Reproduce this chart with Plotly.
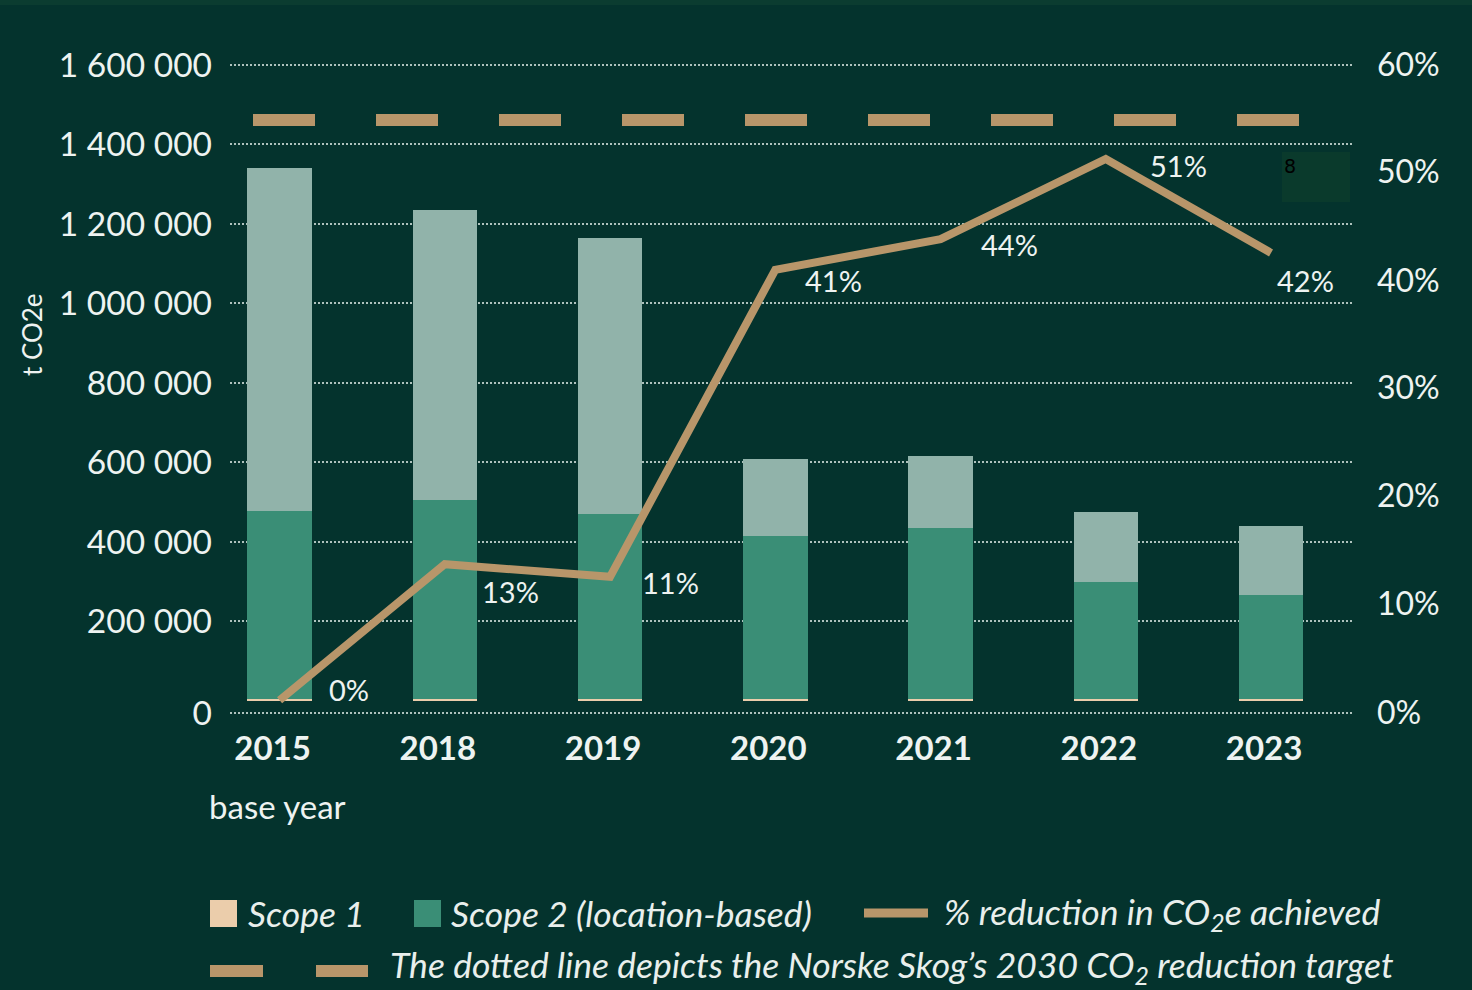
import plotly.graph_objects as go

# data (tonnes CO2e and % reduction)
years = ['2015', '2018', '2019', '2020', '2021', '2022', '2023']
scope1 = [6000, 6000, 6000, 6000, 6000, 6000, 6000]
scope2 = [472000, 500000, 464000, 409000, 429000, 294000, 261000]
other = [863000, 729500, 694400, 193700, 181100, 176100, 173500]
reduction = [0, 12.9, 11.7, 40.8, 43.7, 51.3, 42.4]
reduction_labels = ['0%', '13%', '11%', '41%', '44%', '51%', '42%']
target_2030 = 55

left_ticks = ['0', '200 000', '400 000', '600 000', '800 000',
              '1 000 000', '1 200 000', '1 400 000', '1 600 000']
right_ticks = ['0%', '10%', '20%', '30%', '40%', '50%', '60%']

BG = '#04332d'
PEACH = '#ebcdab'
GREEN = '#3a8e76'
LIGHT = '#91b3aa'
TAN = '#b8966a'
TXT = '#eef3f1'
FONT = 'Lato'

W, H = 1472, 990
L, R, T, B = 230, 120, 63, 276
PW, PH = W - L - R, H - T - B


def px(x):
    return (x - L) / PW


def py(y):
    return (H - B - y) / PH


fig = go.Figure()

fig.add_trace(go.Bar(x=years, y=scope1, name='Scope 1', marker_color=PEACH,
                     marker_line_width=0, width=0.39))
fig.add_trace(go.Bar(x=years, y=scope2, name='Scope 2 (location-based)',
                     marker_color=GREEN, marker_line_width=0, width=0.39))
fig.add_trace(go.Bar(x=years, y=other, name='Other', marker_color=LIGHT,
                     marker_line_width=0, width=0.39))

fig.add_trace(go.Scatter(x=years, y=reduction, yaxis='y2', mode='lines',
                         name='% reduction in CO2e achieved',
                         line=dict(color=TAN, width=8)))

# label offsets next to the line points, in pixels
label_shift = [(69, 11), (66, -27), (60, -6), (58, -11), (69, -5), (73, -6), (34, -28)]
for i, (v, lab) in enumerate(zip(reduction, reduction_labels)):
    # category index, since '2015' would be read as a position
    fig.add_annotation(x=i, y=v, xref='x', yref='y2', text=lab, showarrow=False,
                       xanchor='center', yanchor='middle',
                       xshift=label_shift[i][0], yshift=label_shift[i][1],
                       font=dict(family=FONT, size=29, color=TXT))

# 2030 target dashed line
fig.add_shape(type='line', xref='paper', yref='y2', x0=px(253), x1=px(1299),
              y0=target_2030, y1=target_2030,
              line=dict(color=TAN, width=12, dash='62px,61px'))

# the bottom gridline sits a bit below the zero of the bars in the original,
# ranges padded a little so the edge gridlines get drawn
zero_tick = -30200
y_range = [-33000, 1605000]
y2_range = [-1.3, 60.4]

fig.update_layout(
    width=W, height=H,
    margin=dict(l=L, r=R, t=T, b=B),
    paper_bgcolor=BG, plot_bgcolor=BG,
    barmode='stack', showlegend=False,
    xaxis=dict(type='category', range=[-0.30, 6.49], showgrid=False,
               zeroline=False, showline=False, ticks='',
               ticklabelstandoff=12, ticklabelshift=-7,
               tickfont=dict(family=FONT, size=33, color=TXT, weight='bold')),
    yaxis=dict(range=y_range,
               tickvals=[zero_tick] + [200000 * k for k in range(1, 9)],
               ticktext=left_ticks,
               showgrid=True, gridcolor='rgba(205,220,215,0.85)', gridwidth=1.5,
               griddash='2px,2px', zeroline=False, ticks='',
               ticklabelstandoff=17,
               tickfont=dict(family=FONT, size=33.5, color=TXT)),
    yaxis2=dict(overlaying='y', side='right', range=y2_range,
                tickvals=[-1.2, 9.1, 19.4, 29.6, 39.8, 50.1, 60.2],
                ticktext=right_ticks, showgrid=False, zeroline=False,
                ticks='', ticklabelstandoff=24,
                tickfont=dict(family=FONT, size=32, color=TXT)),
)

# top edge strip and the stray box from the original
fig.add_shape(type='rect', xref='paper', yref='paper', x0=px(0), x1=px(W),
              y0=py(5), y1=py(0), fillcolor='#0b3c30', line_width=0, layer='below')
fig.add_shape(type='rect', xref='paper', yref='paper', x0=px(1282), x1=px(1350),
              y0=py(202), y1=py(152), fillcolor='#0a3a2c', line_width=0, layer='below')
fig.add_annotation(xref='paper', yref='paper', x=px(1282), y=py(153), text='8',
                   showarrow=False, xanchor='left', yanchor='top',
                   font=dict(family='DejaVu Sans', size=19, color='#000000'))

fig.add_annotation(xref='paper', yref='paper', x=px(277), y=py(806), text='base year',
                   showarrow=False, xanchor='center', yanchor='middle',
                   font=dict(family=FONT, size=33, color=TXT))
fig.add_annotation(xref='paper', yref='paper', x=px(32), y=py(335), text='t CO2e',
                   textangle=-90, showarrow=False, xanchor='center', yanchor='middle',
                   font=dict(family=FONT, size=26, color=TXT))

# legend drawn by hand
leg_font = dict(family=FONT, size=35.5, color='#e9efec', style='italic')
fig.add_shape(type='rect', xref='paper', yref='paper', x0=px(210), x1=px(237),
              y0=py(927), y1=py(900), fillcolor=PEACH, line_width=0)
fig.add_shape(type='rect', xref='paper', yref='paper', x0=px(414), x1=px(441),
              y0=py(927), y1=py(900), fillcolor=GREEN, line_width=0)
fig.add_shape(type='line', xref='paper', yref='paper', x0=px(864), x1=px(928),
              y0=py(913), y1=py(913), line=dict(color=TAN, width=9))
fig.add_shape(type='rect', xref='paper', yref='paper', x0=px(210), x1=px(263),
              y0=py(977), y1=py(965), fillcolor=TAN, line_width=0)
fig.add_shape(type='rect', xref='paper', yref='paper', x0=px(316), x1=px(368),
              y0=py(977), y1=py(965), fillcolor=TAN, line_width=0)

legend_items = [
    (246, 913, 'Scope 1'),
    (449, 913, 'Scope 2 (location-based)'),
    (942, 913, '% reduction in CO<sub>2</sub>e achieved'),
    (388, 967, 'The dotted line depicts the Norske Skog\u2019s 2030 CO<sub>2</sub> reduction target'),
]
for x0, y0, txt in legend_items:
    fig.add_annotation(xref='paper', yref='paper', x=px(x0), y=py(y0), text=txt,
                       showarrow=False, xanchor='left', yanchor='middle',
                       font=leg_font)

fig.write_html('out.html', config={'displayModeBar': False},
               post_script="document.body.style.margin='0';")
